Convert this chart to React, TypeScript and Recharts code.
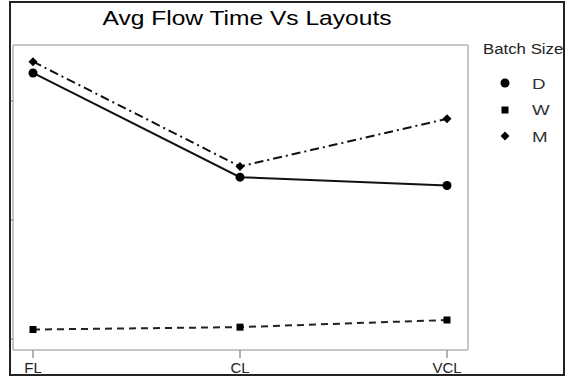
import React from 'react';
import { LineChart, Line, XAxis, YAxis, CartesianGrid } from 'recharts';

const layouts = ['FL', 'CL', 'VCL'];
const batchSizes = ['D', 'W', 'M'];
const flowD = [32.35, 23.6, 22.9];
const flowW = [10.8, 11.0, 11.6];
const flowM = [33.3, 24.5, 28.5];
const yTicks = [10, 20, 30];

const data = layouts.map((layout, i) => ({ layout, D: flowD[i], W: flowW[i], M: flowM[i] }));

const lineStyle: Record<string, { dash?: string; color: string }> = {
  D: { color: '#111' },
  W: { dash: '7 5', color: '#222' },
  M: { dash: '9 4 2 4', color: '#111' },
};

const font = '"Liberation Sans", Arial, sans-serif';

function Marker({ kind, cx, cy }: { kind: string; cx: number; cy: number }) {
  if (kind === 'W') return <rect x={cx - 3.5} y={cy - 3.5} width={7} height={7} fill="#000" />;
  if (kind === 'M')
    return <polygon points={`${cx},${cy - 4.5} ${cx + 4.5},${cy} ${cx},${cy + 4.5} ${cx - 4.5},${cy}`} fill="#000" />;
  return <circle cx={cx} cy={cy} r={4.5} fill="#000" />;
}

export default function App() {
  return (
    <div style={{ position: 'absolute', left: 0, top: 0, width: 575, height: 378, background: '#fff', fontFamily: font }}>
      <LineChart width={575} height={378} data={data} margin={{ top: 45, right: 107, bottom: 0, left: 10 }}>
        {/* plot frame */}
        <CartesianGrid
          stroke="#b5b5b5"
          strokeWidth={1.5}
          horizontalCoordinatesGenerator={({ offset }: any) => [offset.top, offset.top + offset.height]}
          verticalCoordinatesGenerator={({ offset }: any) => [offset.left, offset.left + offset.width]}
        />
        <XAxis
          dataKey="layout"
          height={28}
          padding={{ left: 20, right: 21 }}
          tickSize={8}
          tickMargin={4}
          axisLine={false}
          tickLine={{ stroke: '#999', strokeWidth: 1.5 }}
          tick={{ fill: '#222', fontSize: 15, fontFamily: font }}
        />
        <YAxis
          width={3}
          type="number"
          domain={[9.08, 34.7]}
          ticks={yTicks}
          allowDataOverflow
          tickSize={3}
          tickFormatter={() => ''}
          axisLine={false}
          tickLine={{ stroke: '#999', strokeWidth: 1.5 }}
        />
        {batchSizes.map((b) => (
          <Line
            key={b}
            dataKey={b}
            type="linear"
            stroke={lineStyle[b].color}
            strokeWidth={2}
            strokeDasharray={lineStyle[b].dash}
            isAnimationActive={false}
            dot={(p: any) => <Marker key={`${b}-${p.index}`} kind={b} cx={p.cx} cy={p.cy} />}
            activeDot={false}
          />
        ))}
      </LineChart>

      <div
        style={{
          position: 'absolute', left: 247, top: 7, fontSize: 21, lineHeight: '21px', color: '#000',
          whiteSpace: 'nowrap', transform: 'translateX(-50%) scaleX(1.17)',
        }}
      >
        Avg Flow Time Vs Layouts
      </div>

      <div
        style={{
          position: 'absolute', left: 483, top: 42, fontSize: 14, lineHeight: '14px', color: '#222',
          whiteSpace: 'nowrap', transform: 'scaleX(1.2)', transformOrigin: 'left',
        }}
      >
        Batch Size
      </div>
      {batchSizes.map((b, i) => (
        <div key={b} style={{ position: 'absolute', left: 497, top: 76 + i * 26.5, height: 14, display: 'flex', alignItems: 'center' }}>
          <svg width={16} height={14}>
            <Marker kind={b} cx={8} cy={7} />
          </svg>
          <span style={{ marginLeft: 19, fontSize: 15, color: '#333', display: 'inline-block', transform: 'scaleX(1.25)', transformOrigin: 'left' }}>
            {b}
          </span>
        </div>
      ))}

      <div
        style={{
          position: 'absolute', left: 9, top: 1, width: 556, height: 375, boxSizing: 'border-box',
          border: '2px solid #222', pointerEvents: 'none',
        }}
      />
    </div>
  );
}
